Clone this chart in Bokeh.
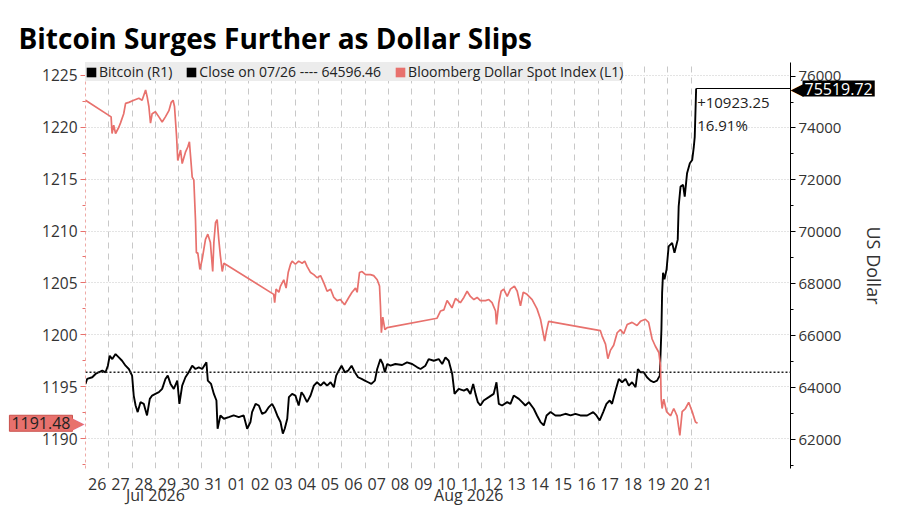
from bokeh.plotting import figure
from bokeh.models import (Range1d, LinearAxis, FixedTicker, SingleIntervalTicker,
                          Span, Label, Legend, LegendItem)
from bokeh.core.properties import value
from bokeh.embed import file_html
from bokeh.resources import INLINE

# x positions are days since Jul 26 2026 00:00
day_labels = ["26", "27", "28", "29", "30", "31", "01", "02", "03", "04", "05", "06", "07",
              "08", "09", "10", "11", "12", "13", "14", "15", "16", "17", "18", "19", "20", "21"]
month_labels = ["Jul 2026", "Aug 2026"]
month_pos = [3.0, 16.45]

# Bloomberg Dollar Spot Index (left axis)
dxy_day = [0.00, 1.10, 1.14, 1.21, 1.29, 1.43, 1.50, 1.64, 1.72, 1.86, 2.07, 2.29, 2.43, 2.58,
           2.65, 2.72, 2.79, 2.86, 3.00, 3.15, 3.29, 3.43, 3.58, 3.68, 3.76, 3.82, 3.91, 3.96,
           4.08, 4.15, 4.29, 4.39, 4.46, 4.51, 4.58, 4.65, 4.72, 4.76, 4.82, 4.91, 5.01, 5.15,
           5.25, 5.36, 5.46, 5.51, 5.58, 5.65, 5.72, 5.79, 5.87, 5.94, 8.08, 8.12, 8.18, 8.30,
           8.37, 8.51, 8.61, 8.70, 8.80, 8.87, 9.01, 9.15, 9.30, 9.41, 9.51, 9.66, 9.80, 9.94,
           10.09, 10.23, 10.37, 10.52, 10.66, 10.80, 10.94, 11.12, 11.30, 11.44, 11.59, 11.66,
           11.76, 11.87, 12.02, 12.23, 12.37, 12.52, 12.62, 12.66, 12.70, 12.76, 12.85, 12.95,
           15.09, 15.24, 15.38, 15.52, 15.73, 15.88, 16.09, 16.24, 16.38, 16.52, 16.67, 16.81,
           16.95, 17.17, 17.31, 17.45, 17.60, 17.64, 17.74, 17.84, 17.95, 18.10, 18.24, 18.41,
           18.53, 18.67, 18.79, 18.95, 19.17, 19.38, 19.53, 19.64, 19.71, 19.79, 19.88, 22.10,
           22.17, 22.32, 22.42, 22.53, 22.67, 22.82, 22.96, 23.10, 23.25, 23.46, 23.67, 23.82,
           24.03, 24.17, 24.32, 24.46, 24.61, 24.68, 24.71, 24.75, 24.82, 24.94, 25.11, 25.25,
           25.39, 25.51, 25.61, 25.75, 25.89, 26.04, 26.18, 26.27]
dxy_val = [1222.6, 1221.0, 1219.4, 1220.2, 1219.4, 1220.0, 1220.4, 1221.3, 1222.3, 1222.4,
           1222.6, 1222.8, 1222.6, 1223.6, 1222.9, 1222.0, 1220.4, 1221.3, 1221.5, 1221.0,
           1220.5, 1221.0, 1221.6, 1222.4, 1222.6, 1222.0, 1219.1, 1216.8, 1217.8, 1216.5,
           1217.6, 1218.1, 1218.6, 1217.2, 1215.2, 1214.9, 1211.1, 1207.9, 1207.9, 1206.3,
           1207.3, 1209.2, 1209.7, 1208.9, 1206.1, 1208.9, 1210.8, 1211.1, 1209.2, 1207.6,
           1206.1, 1206.9, 1203.9, 1203.1, 1204.4, 1204.1, 1204.7, 1205.3, 1204.5, 1206.0,
           1206.8, 1207.1, 1206.8, 1207.1, 1206.9, 1207.1, 1206.6, 1206.0, 1205.8, 1205.5,
           1205.7, 1205.0, 1204.2, 1204.4, 1203.6, 1203.3, 1203.4, 1202.9, 1203.6, 1204.1,
           1204.5, 1204.1, 1206.0, 1206.1, 1205.8, 1205.8, 1205.7, 1205.3, 1204.7, 1202.8,
           1200.2, 1201.7, 1200.5, 1200.7, 1201.6, 1202.3, 1202.4, 1203.3, 1202.6, 1203.5,
           1203.1, 1203.6, 1204.2, 1203.7, 1203.4, 1203.6, 1203.3, 1203.3, 1203.4, 1203.1,
           1202.3, 1201.0, 1203.1, 1204.2, 1204.4, 1203.7, 1204.4, 1204.7, 1204.2, 1202.8,
           1204.1, 1203.9, 1203.4, 1202.5, 1201.5, 1200.2, 1199.4, 1200.4, 1201.3, 1200.4,
           1199.9, 1199.1, 1197.7, 1198.5, 1199.0, 1200.2, 1200.5, 1200.1, 1201.0, 1201.2,
           1200.9, 1201.3, 1201.5, 1201.2, 1199.6, 1198.9, 1198.3, 1197.0, 1193.8, 1192.9,
           1193.8, 1192.6, 1192.2, 1192.9, 1192.2, 1190.3, 1192.6, 1192.9, 1193.5, 1192.6,
           1191.6, 1191.48]

# Bitcoin in US dollars (right axis)
btc_day = [0.00, 0.07, 0.29, 0.43, 0.57, 0.72, 0.86, 0.96, 1.04, 1.15, 1.29, 1.43, 1.57, 1.72,
           1.86, 2.00, 2.07, 2.15, 2.24, 2.36, 2.50, 2.64, 2.76, 2.86, 3.00, 3.15, 3.29, 3.43,
           3.53, 3.65, 3.79, 3.94, 4.03, 4.15, 4.29, 4.43, 4.58, 4.72, 4.86, 5.01, 5.19, 5.25,
           5.39, 5.51, 5.62, 5.67, 5.79, 5.94, 6.15, 6.36, 6.58, 6.79, 6.94, 7.08, 7.15, 7.30,
           7.44, 7.58, 7.73, 7.87, 8.01, 8.12, 8.23, 8.37, 8.47, 8.55, 8.66, 8.73, 8.87, 9.01,
           9.15, 9.27, 9.37, 9.51, 9.66, 9.80, 9.94, 10.09, 10.23, 10.37, 10.52, 10.66, 10.76,
           10.87, 10.99, 11.13, 11.27, 11.42, 11.56, 11.70, 11.85, 11.99, 12.13, 12.27, 12.42,
           12.52, 12.66, 12.76, 12.85, 12.95, 13.09, 13.30, 13.59, 13.80, 14.02, 14.24, 14.38,
           14.59, 14.73, 14.95, 15.16, 15.31, 15.45, 15.59, 15.74, 15.84, 16.02, 16.24, 16.38,
           16.52, 16.64, 16.74, 16.84, 16.95, 17.09, 17.31, 17.52, 17.64, 17.74, 17.88, 18.10,
           18.24, 18.38, 18.60, 18.74, 18.88, 19.03, 19.24, 19.38, 19.53, 19.67, 19.79, 19.96,
           20.17, 20.39, 20.60, 20.82, 21.03, 21.24, 21.53, 21.79, 21.93, 22.07, 22.22, 22.36,
           22.50, 22.60, 22.75, 22.89, 23.03, 23.18, 23.32, 23.46, 23.61, 23.71, 23.82, 23.96,
           24.10, 24.25, 24.39, 24.53, 24.65, 24.72, 24.75, 24.79, 24.85, 24.94, 25.03, 25.18,
           25.28, 25.42, 25.46, 25.54, 25.65, 25.72, 25.82, 25.94, 26.04, 26.11, 26.15, 26.21]
btc_val = [64146, 64337, 64402, 64529, 64594, 64655, 64594, 64847, 65230, 65103, 65295, 65169,
           65038, 64847, 64720, 64464, 63697, 63314, 63061, 63444, 63379, 62931, 63571, 63697,
           63762, 63828, 63954, 64337, 64464, 64146, 63954, 64272, 63379, 64080, 64402, 64594,
           64847, 64720, 64785, 64720, 64977, 64272, 64146, 63762, 63506, 62421, 62931, 62805,
           62866, 62931, 62866, 62931, 62421, 62678, 63061, 63379, 63314, 62996, 63061, 63253,
           63379, 63188, 62931, 62678, 62230, 62421, 62805, 63636, 63762, 63697, 63314, 63828,
           63697, 63444, 63697, 64080, 64210, 64080, 64210, 64080, 64210, 64019, 64464, 64655,
           64847, 64594, 64655, 64847, 64594, 64402, 64337, 64272, 64210, 64146, 64272, 64720,
           65103, 64912, 64594, 64912, 64847, 64912, 64874, 64977, 64912, 64785, 64720, 64847,
           65103, 65038, 65103, 64912, 65169, 65038, 64529, 63762, 63954, 63889, 63954, 63762,
           64146, 63762, 63444, 63314, 63506, 63636, 63762, 64210, 63379, 63314, 63444, 63379,
           63697, 63571, 63444, 63314, 63444, 63188, 62931, 62678, 62548, 62931, 63061, 62931,
           62931, 62996, 62931, 62996, 62931, 62931, 63061, 62931, 62740, 63061, 63379, 63506,
           63379, 63889, 64337, 64210, 64337, 64080, 64210, 64019, 64720, 64594, 64594, 64402,
           64272, 64210, 64272, 64464, 66253, 67659, 68425, 68169, 68552, 69444, 69575, 69192,
           69701, 70977, 71743, 71808, 71360, 72257, 72640, 72766, 73276, 73659, 75519.72]

btc_close_0726 = 64596.46
btc_change = 10923.25
btc_change_pct = 16.91

RED = "#e8716d"
FONT = "Open Sans"

x_end = 30.26
y_lo = 1187.12
p = figure(width=900, height=510, output_backend="svg", toolbar_location=None,
           x_range=Range1d(0, x_end), y_range=Range1d(y_lo, 1226.24),
           min_border_left=85, min_border_right=110, min_border_top=62, min_border_bottom=42)
p.extra_y_ranges = {"btc": Range1d(60889, 76521)}
p.outline_line_color = None

p.title.text = "Bitcoin Surges Further as Dollar Slips"
p.title.text_font = FONT
p.title.text_font_size = "28px"
p.title.text_font_style = "bold"
p.title.text_color = "black"
p.title.align = "left"
p.title.offset = -67
p.title.standoff = 12

# grids
p.xgrid.ticker = FixedTicker(ticks=list(range(1, len(day_labels))))
p.xgrid.grid_line_color = "#c8c8c8"
p.xgrid.grid_line_dash = "6 5"
p.ygrid.grid_line_color = "#c8c8c8"
p.ygrid.grid_line_dash = "1 2"

# bottom: day labels sit between the day gridlines
xa = p.xaxis[0]
xa.ticker = FixedTicker(ticks=[i + 0.5 for i in range(len(day_labels))])
xa.major_label_overrides = {i + 0.5: lab for i, lab in enumerate(day_labels)}
xa.axis_line_color = None
xa.major_tick_line_color = None
xa.minor_tick_line_color = None
xa.major_label_standoff = 3
xa.major_label_text_font = FONT
xa.major_label_text_font_size = "16px"
xa.major_label_text_color = "#333333"

# left axis: dollar index
ya = p.yaxis[0]
ya.ticker = SingleIntervalTicker(interval=5, num_minor_ticks=2)
ya.axis_line_color = "#eeaaa6"
ya.axis_line_dash = "3 3"
ya.major_tick_line_color = RED
ya.minor_tick_line_color = RED
ya.major_tick_in = 0
ya.major_tick_out = 5
ya.minor_tick_in = 0
ya.minor_tick_out = 3
ya.major_label_standoff = 3
ya.major_label_text_font = FONT
ya.major_label_text_font_size = "15.5px"
ya.major_label_text_color = "#333333"
p.ygrid.ticker = ya.ticker

# right axis: bitcoin
yr = LinearAxis(y_range_name="btc", ticker=SingleIntervalTicker(interval=2000, num_minor_ticks=2),
                axis_label="US Dollar")
yr.axis_line_color = "black"
yr.major_tick_line_color = "black"
yr.minor_tick_line_color = "black"
yr.major_tick_in = 0
yr.major_tick_out = 5
yr.minor_tick_in = 0
yr.minor_tick_out = 3
yr.major_label_standoff = 3
yr.major_label_text_font = FONT
yr.major_label_text_font_size = "15px"
yr.major_label_text_color = "#333333"
yr.axis_label_text_font = FONT
yr.axis_label_text_font_size = "18px"
yr.axis_label_text_font_style = "normal"
yr.axis_label_text_color = "#333333"
yr.axis_label_standoff = 18
p.add_layout(yr, "right")

# close reference line
p.add_layout(Span(location=btc_close_0726, dimension="width", y_range_name="btc",
                  line_color="#222222", line_dash="2 2", line_width=1.5))

# series
p.line(btc_day, btc_val, y_range_name="btc", line_color="black", line_width=1.9)
p.line(dxy_day, dxy_val, line_color=RED, line_width=1.7)

# last value leader for bitcoin
btc_last = btc_val[-1]
p.line([btc_day[-1], x_end], [btc_last, btc_last], y_range_name="btc",
       line_color="black", line_width=1.2)

# legend built from swatch renderers (one row of nan so nothing is drawn in the plot)
nan = float("nan")
sw_btc = p.quad(left=[nan], right=[nan], top=[nan], bottom=[nan], fill_color="black", line_color=None)
sw_close = p.quad(left=[nan], right=[nan], top=[nan], bottom=[nan], fill_color="black", line_color=None)
sw_dxy = p.quad(left=[nan], right=[nan], top=[nan], bottom=[nan], fill_color=RED, line_color=None)
legend = Legend(items=[
    LegendItem(label="Bitcoin (R1)", renderers=[sw_btc]),
    LegendItem(label=f"Close on 07/26 ---- {btc_close_0726:.2f}", renderers=[sw_close]),
    LegendItem(label="Bloomberg Dollar Spot Index (L1)", renderers=[sw_dxy]),
], location="top_left", orientation="horizontal")
legend.background_fill_color = "#ececec"
legend.background_fill_alpha = 1
legend.border_line_color = None
legend.margin = 0
legend.padding = 3
legend.spacing = 13
legend.glyph_width = 12
legend.glyph_height = 12
legend.label_height = 16
legend.label_standoff = 2
legend.label_text_font = FONT
legend.label_text_font_size = "14px"
legend.label_text_color = "#222222"
p.add_layout(legend)

# change text beside the last bitcoin point
p.add_layout(Label(x=btc_day[-1], y=btc_last, y_range_name="btc", x_offset=1, y_offset=-3,
                   text=f"+{btc_change:.2f}\n{btc_change_pct:.2f}%",
                   text_align="left", text_baseline="top", text_font=FONT,
                   text_font_size="15px", text_color="#222222", text_line_height=1.15))

# month names under the day labels (overlay level is drawn outside the frame)
p.text(x=month_pos, y=[y_lo] * len(month_pos), text=month_labels, y_offset=26,
       text_align="center", text_baseline="middle", text_font=value(FONT),
       text_font_size="16px", text_color="#333333", level="overlay")

# value tags outside the axes
dxy_last = dxy_val[-1]
p.text(x=[x_end], y=[btc_last], text=[f"{btc_last:.2f}"], y_range_name="btc", x_offset=12,
       text_align="left", text_baseline="middle", text_font=value(FONT),
       text_font_size="16px", text_color="white", background_fill_color="black",
       padding=2, level="overlay")
p.text(x=[x_end], y=[btc_last], text=["\u25C0"], y_range_name="btc", x_offset=0,
       text_align="left", text_baseline="middle", text_font=value("DejaVu Sans"),
       text_font_size="17px", text_color="black", level="overlay")
p.text(x=[0], y=[dxy_last], text=[f"{dxy_last:.2f}"], x_offset=-13,
       text_align="right", text_baseline="middle", text_font=value(FONT),
       text_font_size="16px", text_color="#222222", background_fill_color=RED,
       border_line_color="#c9504b", padding=2, level="overlay")
p.text(x=[0], y=[dxy_last], text=["\u25B6"], x_offset=-1,
       text_align="right", text_baseline="middle", text_font=value("DejaVu Sans"),
       text_font_size="17px", text_color=RED, level="overlay")

open("out.html", "w").write(file_html(p, INLINE))
